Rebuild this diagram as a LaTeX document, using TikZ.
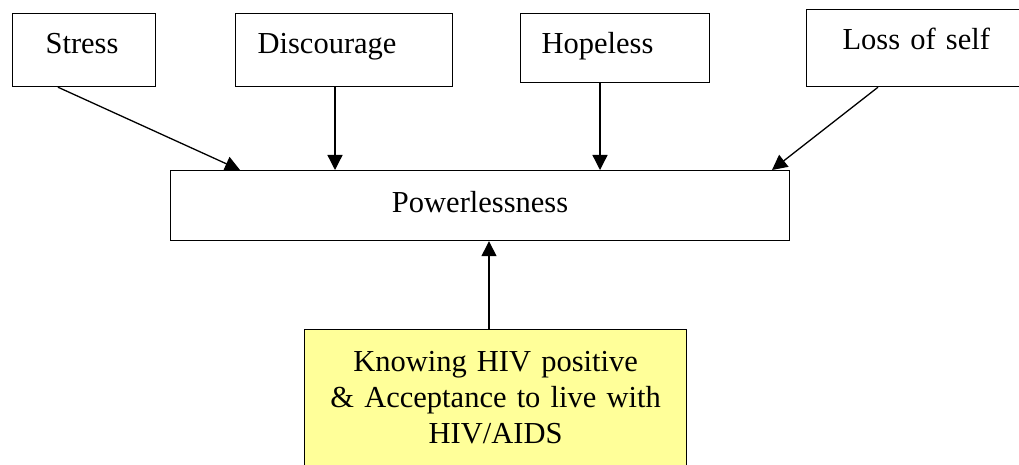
\documentclass[tikz,border=0pt]{standalone}
\usepackage{fontspec}
\setmainfont{Liberation Serif}
\usetikzlibrary{arrows.meta}
\definecolor{notice}{HTML}{FFFF99}

\begin{document}
\begin{tikzpicture}
  \tikzset{
    >={Triangle[width=15pt,length=15pt]},
    box/.style={draw,line width=1.2pt,anchor=north west,inner ysep=0pt,
      font=\fontsize{30.5}{36}\selectfont,align=left},
    cause/.style={box,text height=40pt},
    edge/.style={->,line width=1.3pt},
  }
  \useasboundingbox (0,0) rectangle (1019pt,-465pt);
  \clip (0,0) rectangle (1019pt,-465pt);

  \node [cause,text depth=33pt,inner xsep=33pt,text width=77pt]  (stress)  at (12pt,-13pt)  {Stress};
  \node [cause,text depth=33pt,inner xsep=22pt,text width=173pt] (discour) at (235pt,-13pt) {Discourage};
  \node [cause,text depth=29pt,inner xsep=21pt,text width=147pt] (hope)    at (520pt,-13pt) {Hopeless};
  \node [cause,text depth=37pt,inner xsep=36pt,text width=220pt] (loss)    at (806pt,-9pt)  {Loss of self};
  \node [box,text height=42pt,text depth=28pt,inner xsep=0pt,text width=619pt,align=center]
        (power) at (170pt,-170pt) {Powerlessness};
  \node [box,fill=notice,inner xsep=0pt,inner ysep=22pt,text width=382pt,align=center]
        (hiv) at (304pt,-329pt) {Knowing HIV positive\\ \& Acceptance to live with\\ HIV/AIDS\\[30pt]};

  % causes
  \draw[edge] ([xshift=46pt]stress.south west)  -- ([xshift=70pt]power.north west);
  \draw[edge] ([xshift=100pt]discour.south west) -- ([xshift=165pt]power.north west);
  \draw[edge] ([xshift=80pt]hope.south west)    -- ([xshift=430pt]power.north west);
  \draw[edge] ([xshift=72pt]loss.south west)    -- ([xshift=602pt]power.north west);
  % knowing
  \draw[edge] ([xshift=185pt]hiv.north west) -- ([xshift=319pt]power.south west);
\end{tikzpicture}
\end{document}
